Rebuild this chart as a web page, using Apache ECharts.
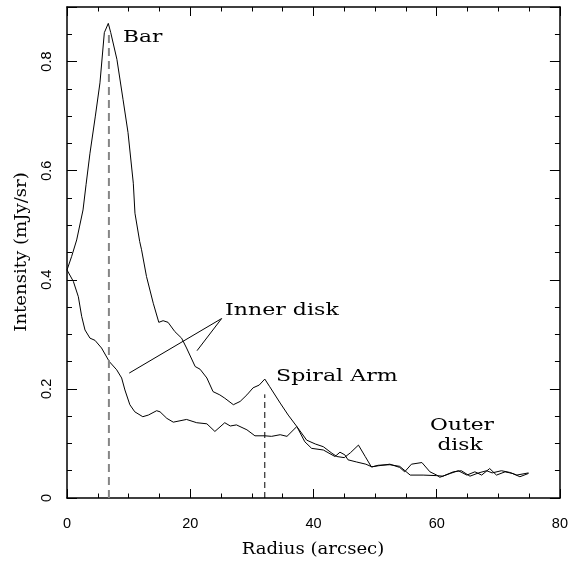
<!DOCTYPE html>
<html>
<head>
<meta charset="utf-8">
<script src="https://cdn.jsdelivr.net/npm/echarts@6/dist/echarts.min.js"></script>
<style>
html,body{margin:0;padding:0;background:#fff;}
#chart{width:571px;height:565px;}
</style>
</head>
<body>
<div id="chart"></div>
<script>
// Upper profile (with the bar peak and the spiral-arm bump)
const radiusBar = [0,0.76,1.57,2.6,3.1,3.73,4.6,5.35,6.06,6.7,7.1,8.1,9.1,9.9,10.76,11.03,11.8,12.1,12.9,14.0,14.9,15.6,16.4,17.5,18.6,19.4,20.8,21.6,22.7,23.7,24.8,25.6,27.0,28.1,29.2,30.2,31.2,32.1,32.9,34.6,35.9,37.3,38.9,40.3,41.6,43.0,43.8,45.0,46.0,47.3,48.4,49.4,50.5,52.4,54.0,54.8,55.9,57.6,58.9,60.0,60.5,62.2,63.5,64.9,66.2,67.3,68.6,69.7,71.1,72.3,73.5,74.9];
const intensityBar = [0.418,0.443,0.473,0.528,0.575,0.632,0.70,0.761,0.853,0.87,0.853,0.804,0.73,0.67,0.577,0.522,0.47,0.455,0.406,0.357,0.322,0.325,0.322,0.305,0.293,0.275,0.241,0.236,0.22,0.195,0.189,0.183,0.171,0.177,0.189,0.202,0.207,0.218,0.204,0.174,0.152,0.131,0.106,0.099,0.094,0.082,0.076,0.074,0.083,0.097,0.076,0.057,0.059,0.062,0.056,0.048,0.062,0.065,0.048,0.042,0.038,0.045,0.05,0.042,0.048,0.042,0.054,0.042,0.048,0.045,0.039,0.045];
// Lower profile (inner disk)
const radiusDisk = [0,1.03,1.84,2.38,2.92,3.73,4.54,5.6,6.87,8.06,8.87,9.4,10.2,11.0,12.3,13.2,14.55,15.1,16.2,17.25,19.4,21.05,22.7,24.0,25.6,26.5,27.5,29.2,30.5,32.1,33.2,34.6,35.7,37.3,38.6,39.7,41.6,43.5,44.3,45.1,45.6,47.0,48.5,49.5,50.5,52.4,54.0,55.7,57.8,60.0,61.0,62.7,64.0,65.4,66.8,68.1,69.0,70.5,71.8,73.0,74.9];
const intensityDisk = [0.418,0.397,0.369,0.333,0.308,0.293,0.289,0.275,0.25,0.235,0.22,0.198,0.171,0.158,0.149,0.152,0.16,0.158,0.146,0.139,0.144,0.138,0.136,0.122,0.138,0.132,0.134,0.125,0.114,0.114,0.113,0.116,0.113,0.131,0.103,0.091,0.088,0.076,0.084,0.079,0.07,0.066,0.062,0.057,0.06,0.061,0.058,0.042,0.042,0.041,0.04,0.048,0.05,0.04,0.046,0.05,0.046,0.05,0.047,0.042,0.046];
// Annotation guides (data coordinates)
const barGuideX = [6.8, 6.8];
const barGuideY = [0, 0.85];
const armGuideX = [32.1, 32.1];
const armGuideY = [0, 0.19];
const pointerX = [10.1, 25.1, 21.1];
const pointerY = [0.229, 0.329, 0.27];
// Tick labels
const xTickValues = [0, 20, 40, 60, 80];
const yTickLabels = {0:'0', 0.2:'0.2', 0.4:'0.4', 0.6:'0.6', 0.8:'0.8'};

const zip = (a, b) => a.map((v, i) => [v, b[i]]);

const tickFont = {fontFamily:'Liberation Sans', fontSize:14.5, color:'#000'};
const axisLineStyle = {color:'#000', width:1.5};

function mkX(pos, labels) {
  return {
    type:'value', min:0, max:80, interval:20, position:pos,
    axisLine:{show:true, onZero:false, lineStyle:axisLineStyle},
    axisTick:{show:true, inside:true, length:9, lineStyle:{color:'#000', width:1}},
    minorTick:{show:true, splitNumber:4, length:4.5, lineStyle:{color:'#000', width:1}},
    splitLine:{show:false},
    axisLabel:{show:labels, margin:18, ...tickFont,
      formatter:v => xTickValues.includes(v) ? String(v) : ''}
  };
}
function mkY(pos, interval, len, labels, line) {
  return {
    type:'value', min:0, max:0.9, interval:interval, position:pos,
    axisLine:{show:line, onZero:false, lineStyle:axisLineStyle},
    axisTick:{show:true, inside:true, length:len, lineStyle:{color:'#000', width:1}},
    splitLine:{show:false},
    axisLabel:{show:labels, rotate:90, margin:13, ...tickFont,
      formatter:v => { const k = Math.round(v*10)/10; return (Math.abs(v-k)<1e-6 && yTickLabels[k] !== undefined) ? yTickLabels[k] : ''; }}
  };
}

const serifText = (text, x, y, size, sx, align, rot) => ({
  type:'text', x:x, y:y, scaleX:sx, scaleY:1, rotation:rot||0, silent:true,
  style:{text:text, fontFamily:'DejaVu Serif', fontSize:size, fill:'#000',
         align:align, verticalAlign:'middle', textAlign:align, textVerticalAlign:'middle'}
});

const chart = echarts.init(document.getElementById('chart'), null, {renderer:'canvas'});
chart.setOption({
  animation:false,
  backgroundColor:'#ffffff',
  grid:{left:67, right:11, top:7, bottom:67, containLabel:false},
  xAxis:[mkX('bottom', true), mkX('top', false)],
  yAxis:[mkY('left',0.2,10,true,true), mkY('left',0.05,5,false,false),
         mkY('right',0.2,10,false,true), mkY('right',0.05,5,false,false)],
  series:[
    {type:'line', data:zip(radiusBar, intensityBar), showSymbol:false, symbol:'none',
     lineStyle:{color:'#000', width:1}},
    {type:'line', data:zip(radiusDisk, intensityDisk), showSymbol:false, symbol:'none',
     lineStyle:{color:'#000', width:1}},
    {type:'line', data:zip(barGuideX, barGuideY), showSymbol:false, symbol:'none',
     lineStyle:{color:'#858585', width:2, type:[8,5]}},
    {type:'line', data:zip(armGuideX, armGuideY), showSymbol:false, symbol:'none',
     lineStyle:{color:'#000', width:1, type:[6,4]}},
    {type:'line', data:zip(pointerX, pointerY), showSymbol:false, symbol:'none',
     lineStyle:{color:'#000', width:1}}
  ],
  graphic:[
    serifText('Bar', 123, 38, 17, 1.28, 'left'),
    serifText('Inner disk', 225, 311, 17, 1.3, 'left'),
    serifText('Spiral Arm', 276, 377, 17, 1.3, 'left'),
    serifText('Outer', 462, 426, 17, 1.28, 'center'),
    serifText('disk', 460, 446, 17, 1.28, 'center'),
    serifText('Radius (arcsec)', 313, 550, 16, 1.13, 'center'),
    serifText('Intensity (mJy/sr)', 22, 252, 16, 1.13, 'center', Math.PI/2)
  ]
});
</script>
</body>
</html>
